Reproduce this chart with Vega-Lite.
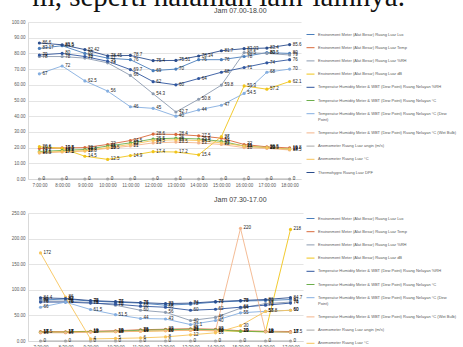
{
  "$schema": "https://vega.github.io/schema/vega-lite/v6.json",
  "background": "white",
  "padding": {"left": 10, "top": -17, "right": 0, "bottom": 0},
  "autosize": {"type": "pad"},
  "title": {"text": "m, seperti halaman lain-lainnya.", "font": "Liberation Serif", "fontSize": 29, "fontWeight": "normal", "color": "#111111", "anchor": "end", "frame": "bounds", "dx": -52, "offset": -5},
  "spacing": 9,
  "datasets": {
    "top": [
      {"t": "7:00:00", "Environment Meter (Alat Besar) Ruang Luar Lux": 83.17, "Environment Meter (Alat Besar) Ruang Luar Temp": 19.5, "Environment Meter (Alat Besar) Ruang Luar %RH": 78, "Environment Meter (Alat Besar) Ruang Luar dB": 20.6, "Temperatur Humidity Meter & WBT (Dew Point) Ruang Nelayan %RH": 79, "Temperatur Humidity Meter & WBT (Dew Point) Ruang Nelayan °C": 17.5, "Temperatur Humidity Meter & WBT (Dew Point) Ruang Nelayan °C (Dew Point)": 67, "Temperatur Humidity Meter & WBT (Dew Point) Ruang Nelayan °C (Wet Bulb)": 16.5, "Anemometer Ruang Luar angin (m/s)": 0, "Anemometer Ruang Luar °C": 17, "Thermohygro Ruang Luar DPF": 86.6},
      {"t": "8:00:00", "Environment Meter (Alat Besar) Ruang Luar Lux": 84.9, "Environment Meter (Alat Besar) Ruang Luar Temp": 19.8, "Environment Meter (Alat Besar) Ruang Luar %RH": 78, "Environment Meter (Alat Besar) Ruang Luar dB": 19.5, "Temperatur Humidity Meter & WBT (Dew Point) Ruang Nelayan %RH": 80, "Temperatur Humidity Meter & WBT (Dew Point) Ruang Nelayan °C": 18.2, "Temperatur Humidity Meter & WBT (Dew Point) Ruang Nelayan °C (Dew Point)": 72, "Temperatur Humidity Meter & WBT (Dew Point) Ruang Nelayan °C (Wet Bulb)": 17.2, "Anemometer Ruang Luar angin (m/s)": 0, "Anemometer Ruang Luar °C": 17.5, "Thermohygro Ruang Luar DPF": 85.5},
      {"t": "9:00:00", "Environment Meter (Alat Besar) Ruang Luar Lux": 80, "Environment Meter (Alat Besar) Ruang Luar Temp": 20, "Environment Meter (Alat Besar) Ruang Luar %RH": 77, "Environment Meter (Alat Besar) Ruang Luar dB": 14.5, "Temperatur Humidity Meter & WBT (Dew Point) Ruang Nelayan %RH": 78, "Temperatur Humidity Meter & WBT (Dew Point) Ruang Nelayan °C": 18.8, "Temperatur Humidity Meter & WBT (Dew Point) Ruang Nelayan °C (Dew Point)": 62.5, "Temperatur Humidity Meter & WBT (Dew Point) Ruang Nelayan °C (Wet Bulb)": 17.8, "Anemometer Ruang Luar angin (m/s)": 0, "Anemometer Ruang Luar °C": 18, "Thermohygro Ruang Luar DPF": 82.42},
      {"t": "10:00:00", "Environment Meter (Alat Besar) Ruang Luar Lux": 77, "Environment Meter (Alat Besar) Ruang Luar Temp": 22, "Environment Meter (Alat Besar) Ruang Luar %RH": 74, "Environment Meter (Alat Besar) Ruang Luar dB": 12.5, "Temperatur Humidity Meter & WBT (Dew Point) Ruang Nelayan %RH": 75, "Temperatur Humidity Meter & WBT (Dew Point) Ruang Nelayan °C": 21, "Temperatur Humidity Meter & WBT (Dew Point) Ruang Nelayan °C (Dew Point)": 56, "Temperatur Humidity Meter & WBT (Dew Point) Ruang Nelayan °C (Wet Bulb)": 19.5, "Anemometer Ruang Luar angin (m/s)": 0, "Anemometer Ruang Luar °C": 20, "Thermohygro Ruang Luar DPF": 78.45},
      {"t": "11:00:00", "Environment Meter (Alat Besar) Ruang Luar Lux": 76, "Environment Meter (Alat Besar) Ruang Luar Temp": 24.5, "Environment Meter (Alat Besar) Ruang Luar %RH": 66, "Environment Meter (Alat Besar) Ruang Luar dB": 14.9, "Temperatur Humidity Meter & WBT (Dew Point) Ruang Nelayan %RH": 69.7, "Temperatur Humidity Meter & WBT (Dew Point) Ruang Nelayan °C": 23, "Temperatur Humidity Meter & WBT (Dew Point) Ruang Nelayan °C (Dew Point)": 46, "Temperatur Humidity Meter & WBT (Dew Point) Ruang Nelayan °C (Wet Bulb)": 21, "Anemometer Ruang Luar angin (m/s)": 0, "Anemometer Ruang Luar °C": 22, "Thermohygro Ruang Luar DPF": 78.7},
      {"t": "12:00:00", "Environment Meter (Alat Besar) Ruang Luar Lux": 69, "Environment Meter (Alat Besar) Ruang Luar Temp": 28.6, "Environment Meter (Alat Besar) Ruang Luar %RH": 54.3, "Environment Meter (Alat Besar) Ruang Luar dB": 17.4, "Temperatur Humidity Meter & WBT (Dew Point) Ruang Nelayan %RH": 62, "Temperatur Humidity Meter & WBT (Dew Point) Ruang Nelayan °C": 25.5, "Temperatur Humidity Meter & WBT (Dew Point) Ruang Nelayan °C (Dew Point)": 45, "Temperatur Humidity Meter & WBT (Dew Point) Ruang Nelayan °C (Wet Bulb)": 23, "Anemometer Ruang Luar angin (m/s)": 0, "Anemometer Ruang Luar °C": 24.5, "Thermohygro Ruang Luar DPF": 75.4},
      {"t": "13:00:00", "Environment Meter (Alat Besar) Ruang Luar Lux": 70, "Environment Meter (Alat Besar) Ruang Luar Temp": 28.4, "Environment Meter (Alat Besar) Ruang Luar %RH": 42.7, "Environment Meter (Alat Besar) Ruang Luar dB": 17.2, "Temperatur Humidity Meter & WBT (Dew Point) Ruang Nelayan %RH": 60, "Temperatur Humidity Meter & WBT (Dew Point) Ruang Nelayan °C": 26, "Temperatur Humidity Meter & WBT (Dew Point) Ruang Nelayan °C (Dew Point)": 40, "Temperatur Humidity Meter & WBT (Dew Point) Ruang Nelayan °C (Wet Bulb)": 23.5, "Anemometer Ruang Luar angin (m/s)": 0, "Anemometer Ruang Luar °C": 25, "Thermohygro Ruang Luar DPF": 75.51},
      {"t": "14:00:00", "Environment Meter (Alat Besar) Ruang Luar Lux": 76, "Environment Meter (Alat Besar) Ruang Luar Temp": 27.5, "Environment Meter (Alat Besar) Ruang Luar %RH": 50.8, "Environment Meter (Alat Besar) Ruang Luar dB": 15.4, "Temperatur Humidity Meter & WBT (Dew Point) Ruang Nelayan %RH": 64, "Temperatur Humidity Meter & WBT (Dew Point) Ruang Nelayan °C": 25.5, "Temperatur Humidity Meter & WBT (Dew Point) Ruang Nelayan °C (Dew Point)": 44, "Temperatur Humidity Meter & WBT (Dew Point) Ruang Nelayan °C (Wet Bulb)": 23, "Anemometer Ruang Luar angin (m/s)": 0, "Anemometer Ruang Luar °C": 24.5, "Thermohygro Ruang Luar DPF": 78.34},
      {"t": "15:00:00", "Environment Meter (Alat Besar) Ruang Luar Lux": 76, "Environment Meter (Alat Besar) Ruang Luar Temp": 26, "Environment Meter (Alat Besar) Ruang Luar %RH": 59.8, "Environment Meter (Alat Besar) Ruang Luar dB": 27, "Temperatur Humidity Meter & WBT (Dew Point) Ruang Nelayan %RH": 68, "Temperatur Humidity Meter & WBT (Dew Point) Ruang Nelayan °C": 24, "Temperatur Humidity Meter & WBT (Dew Point) Ruang Nelayan °C (Dew Point)": 47, "Temperatur Humidity Meter & WBT (Dew Point) Ruang Nelayan °C (Wet Bulb)": 22, "Anemometer Ruang Luar angin (m/s)": 0, "Anemometer Ruang Luar °C": 23, "Thermohygro Ruang Luar DPF": 81.7},
      {"t": "16:00:00", "Environment Meter (Alat Besar) Ruang Luar Lux": 78, "Environment Meter (Alat Besar) Ruang Luar Temp": 22, "Environment Meter (Alat Besar) Ruang Luar %RH": 80.5, "Environment Meter (Alat Besar) Ruang Luar dB": 59.3, "Temperatur Humidity Meter & WBT (Dew Point) Ruang Nelayan %RH": 71, "Temperatur Humidity Meter & WBT (Dew Point) Ruang Nelayan °C": 21, "Temperatur Humidity Meter & WBT (Dew Point) Ruang Nelayan °C (Dew Point)": 54.5, "Temperatur Humidity Meter & WBT (Dew Point) Ruang Nelayan °C (Wet Bulb)": 20, "Anemometer Ruang Luar angin (m/s)": 0, "Anemometer Ruang Luar °C": 21, "Thermohygro Ruang Luar DPF": 83.03},
      {"t": "17:00:00", "Environment Meter (Alat Besar) Ruang Luar Lux": 80.5, "Environment Meter (Alat Besar) Ruang Luar Temp": 20.5, "Environment Meter (Alat Besar) Ruang Luar %RH": 80, "Environment Meter (Alat Besar) Ruang Luar dB": 57.2, "Temperatur Humidity Meter & WBT (Dew Point) Ruang Nelayan %RH": 74, "Temperatur Humidity Meter & WBT (Dew Point) Ruang Nelayan °C": 20, "Temperatur Humidity Meter & WBT (Dew Point) Ruang Nelayan °C (Dew Point)": 68, "Temperatur Humidity Meter & WBT (Dew Point) Ruang Nelayan °C (Wet Bulb)": 19.5, "Anemometer Ruang Luar angin (m/s)": 0, "Anemometer Ruang Luar °C": 20, "Thermohygro Ruang Luar DPF": 83.4},
      {"t": "18:00:00", "Environment Meter (Alat Besar) Ruang Luar Lux": 80, "Environment Meter (Alat Besar) Ruang Luar Temp": 19.8, "Environment Meter (Alat Besar) Ruang Luar %RH": 79, "Environment Meter (Alat Besar) Ruang Luar dB": 62.1, "Temperatur Humidity Meter & WBT (Dew Point) Ruang Nelayan %RH": 76, "Temperatur Humidity Meter & WBT (Dew Point) Ruang Nelayan °C": 19, "Temperatur Humidity Meter & WBT (Dew Point) Ruang Nelayan °C (Dew Point)": 70, "Temperatur Humidity Meter & WBT (Dew Point) Ruang Nelayan °C (Wet Bulb)": 18.5, "Anemometer Ruang Luar angin (m/s)": 0, "Anemometer Ruang Luar °C": 19, "Thermohygro Ruang Luar DPF": 85.6}
    ],
    "bot": [
      {"t": "7:30:00", "Environment Meter (Alat Besar) Ruang Luar Lux": 80, "Environment Meter (Alat Besar) Ruang Luar Temp": 18.5, "Environment Meter (Alat Besar) Ruang Luar %RH": 78, "Environment Meter (Alat Besar) Ruang Luar dB": 17, "Temperatur Humidity Meter & WBT (Dew Point) Ruang Nelayan %RH": 76, "Temperatur Humidity Meter & WBT (Dew Point) Ruang Nelayan °C": 17, "Temperatur Humidity Meter & WBT (Dew Point) Ruang Nelayan °C (Dew Point)": 66, "Temperatur Humidity Meter & WBT (Dew Point) Ruang Nelayan °C (Wet Bulb)": 16, "Anemometer Ruang Luar angin (m/s)": 0, "Anemometer Ruang Luar °C": 172, "Thermohygro Ruang Luar DPF": 84.4},
      {"t": "8:30:00", "Environment Meter (Alat Besar) Ruang Luar Lux": 82, "Environment Meter (Alat Besar) Ruang Luar Temp": 18, "Environment Meter (Alat Besar) Ruang Luar %RH": 78, "Environment Meter (Alat Besar) Ruang Luar dB": 17, "Temperatur Humidity Meter & WBT (Dew Point) Ruang Nelayan %RH": 76, "Temperatur Humidity Meter & WBT (Dew Point) Ruang Nelayan °C": 17, "Temperatur Humidity Meter & WBT (Dew Point) Ruang Nelayan °C (Dew Point)": 76, "Temperatur Humidity Meter & WBT (Dew Point) Ruang Nelayan °C (Wet Bulb)": 16, "Anemometer Ruang Luar angin (m/s)": 0, "Anemometer Ruang Luar °C": 86, "Thermohygro Ruang Luar DPF": 83},
      {"t": "9:30:00", "Environment Meter (Alat Besar) Ruang Luar Lux": 78, "Environment Meter (Alat Besar) Ruang Luar Temp": 19, "Environment Meter (Alat Besar) Ruang Luar %RH": 75, "Environment Meter (Alat Besar) Ruang Luar dB": 18, "Temperatur Humidity Meter & WBT (Dew Point) Ruang Nelayan %RH": 74, "Temperatur Humidity Meter & WBT (Dew Point) Ruang Nelayan °C": 18, "Temperatur Humidity Meter & WBT (Dew Point) Ruang Nelayan °C (Dew Point)": 61.5, "Temperatur Humidity Meter & WBT (Dew Point) Ruang Nelayan °C (Wet Bulb)": 17, "Anemometer Ruang Luar angin (m/s)": 0, "Anemometer Ruang Luar °C": 4, "Thermohygro Ruang Luar DPF": 79},
      {"t": "10:30:00", "Environment Meter (Alat Besar) Ruang Luar Lux": 76, "Environment Meter (Alat Besar) Ruang Luar Temp": 20, "Environment Meter (Alat Besar) Ruang Luar %RH": 70, "Environment Meter (Alat Besar) Ruang Luar dB": 18, "Temperatur Humidity Meter & WBT (Dew Point) Ruang Nelayan %RH": 72, "Temperatur Humidity Meter & WBT (Dew Point) Ruang Nelayan °C": 19, "Temperatur Humidity Meter & WBT (Dew Point) Ruang Nelayan °C (Dew Point)": 51.5, "Temperatur Humidity Meter & WBT (Dew Point) Ruang Nelayan °C (Wet Bulb)": 18, "Anemometer Ruang Luar angin (m/s)": 0, "Anemometer Ruang Luar °C": 5, "Thermohygro Ruang Luar DPF": 77},
      {"t": "11:30:00", "Environment Meter (Alat Besar) Ruang Luar Lux": 74, "Environment Meter (Alat Besar) Ruang Luar Temp": 22, "Environment Meter (Alat Besar) Ruang Luar %RH": 60, "Environment Meter (Alat Besar) Ruang Luar dB": 19, "Temperatur Humidity Meter & WBT (Dew Point) Ruang Nelayan %RH": 68, "Temperatur Humidity Meter & WBT (Dew Point) Ruang Nelayan °C": 21, "Temperatur Humidity Meter & WBT (Dew Point) Ruang Nelayan °C (Dew Point)": 44, "Temperatur Humidity Meter & WBT (Dew Point) Ruang Nelayan °C (Wet Bulb)": 19, "Anemometer Ruang Luar angin (m/s)": 0, "Anemometer Ruang Luar °C": 6, "Thermohygro Ruang Luar DPF": 75},
      {"t": "12:30:00", "Environment Meter (Alat Besar) Ruang Luar Lux": 70, "Environment Meter (Alat Besar) Ruang Luar Temp": 23, "Environment Meter (Alat Besar) Ruang Luar %RH": 56, "Environment Meter (Alat Besar) Ruang Luar dB": 20, "Temperatur Humidity Meter & WBT (Dew Point) Ruang Nelayan %RH": 66, "Temperatur Humidity Meter & WBT (Dew Point) Ruang Nelayan °C": 22, "Temperatur Humidity Meter & WBT (Dew Point) Ruang Nelayan °C (Dew Point)": 43, "Temperatur Humidity Meter & WBT (Dew Point) Ruang Nelayan °C (Wet Bulb)": 20, "Anemometer Ruang Luar angin (m/s)": 0, "Anemometer Ruang Luar °C": 8, "Thermohygro Ruang Luar DPF": 73},
      {"t": "13:30:00", "Environment Meter (Alat Besar) Ruang Luar Lux": 72, "Environment Meter (Alat Besar) Ruang Luar Temp": 24, "Environment Meter (Alat Besar) Ruang Luar %RH": 40, "Environment Meter (Alat Besar) Ruang Luar dB": 21, "Temperatur Humidity Meter & WBT (Dew Point) Ruang Nelayan %RH": 60, "Temperatur Humidity Meter & WBT (Dew Point) Ruang Nelayan °C": 23, "Temperatur Humidity Meter & WBT (Dew Point) Ruang Nelayan °C (Dew Point)": 32.1, "Temperatur Humidity Meter & WBT (Dew Point) Ruang Nelayan °C (Wet Bulb)": 21, "Anemometer Ruang Luar angin (m/s)": 0, "Anemometer Ruang Luar °C": 12, "Thermohygro Ruang Luar DPF": 74},
      {"t": "14:30:00", "Environment Meter (Alat Besar) Ruang Luar Lux": 76, "Environment Meter (Alat Besar) Ruang Luar Temp": 23, "Environment Meter (Alat Besar) Ruang Luar %RH": 46, "Environment Meter (Alat Besar) Ruang Luar dB": 20, "Temperatur Humidity Meter & WBT (Dew Point) Ruang Nelayan %RH": 62, "Temperatur Humidity Meter & WBT (Dew Point) Ruang Nelayan °C": 22, "Temperatur Humidity Meter & WBT (Dew Point) Ruang Nelayan °C (Dew Point)": 40, "Temperatur Humidity Meter & WBT (Dew Point) Ruang Nelayan °C (Wet Bulb)": 20, "Anemometer Ruang Luar angin (m/s)": 0, "Anemometer Ruang Luar °C": 16, "Thermohygro Ruang Luar DPF": 77},
      {"t": "15:30:00", "Environment Meter (Alat Besar) Ruang Luar Lux": 78, "Environment Meter (Alat Besar) Ruang Luar Temp": 20, "Environment Meter (Alat Besar) Ruang Luar %RH": 64, "Environment Meter (Alat Besar) Ruang Luar dB": 19, "Temperatur Humidity Meter & WBT (Dew Point) Ruang Nelayan %RH": 66, "Temperatur Humidity Meter & WBT (Dew Point) Ruang Nelayan °C": 19, "Temperatur Humidity Meter & WBT (Dew Point) Ruang Nelayan °C (Dew Point)": 55, "Temperatur Humidity Meter & WBT (Dew Point) Ruang Nelayan °C (Wet Bulb)": 220, "Anemometer Ruang Luar angin (m/s)": 0, "Anemometer Ruang Luar °C": 30, "Thermohygro Ruang Luar DPF": 79},
      {"t": "16:30:00", "Environment Meter (Alat Besar) Ruang Luar Lux": 79, "Environment Meter (Alat Besar) Ruang Luar Temp": 19, "Environment Meter (Alat Besar) Ruang Luar %RH": 73, "Environment Meter (Alat Besar) Ruang Luar dB": 18, "Temperatur Humidity Meter & WBT (Dew Point) Ruang Nelayan %RH": 70, "Temperatur Humidity Meter & WBT (Dew Point) Ruang Nelayan °C": 18, "Temperatur Humidity Meter & WBT (Dew Point) Ruang Nelayan °C (Dew Point)": 58, "Temperatur Humidity Meter & WBT (Dew Point) Ruang Nelayan °C (Wet Bulb)": 18, "Anemometer Ruang Luar angin (m/s)": 0, "Anemometer Ruang Luar °C": 57.8, "Thermohygro Ruang Luar DPF": 81},
      {"t": "17:00:00", "Environment Meter (Alat Besar) Ruang Luar Lux": 81, "Environment Meter (Alat Besar) Ruang Luar Temp": 18.5, "Environment Meter (Alat Besar) Ruang Luar %RH": 76, "Environment Meter (Alat Besar) Ruang Luar dB": 218, "Temperatur Humidity Meter & WBT (Dew Point) Ruang Nelayan %RH": 74, "Temperatur Humidity Meter & WBT (Dew Point) Ruang Nelayan °C": 17, "Temperatur Humidity Meter & WBT (Dew Point) Ruang Nelayan °C (Dew Point)": 60, "Temperatur Humidity Meter & WBT (Dew Point) Ruang Nelayan °C (Wet Bulb)": 17, "Anemometer Ruang Luar angin (m/s)": 0, "Anemometer Ruang Luar °C": 60, "Thermohygro Ruang Luar DPF": 84.7}
    ]
  },
  "vconcat": [
    {
      "width": 273,
      "height": 157,
      "title": {"text": "Jam 07.00-18.00", "anchor": "start", "dx": 204, "fontSize": 7, "fontWeight": "normal", "color": "#404040", "offset": 5},
      "data": {"name": "top"},
      "transform": [{"fold": ["Environment Meter (Alat Besar) Ruang Luar Lux", "Environment Meter (Alat Besar) Ruang Luar Temp", "Environment Meter (Alat Besar) Ruang Luar %RH", "Environment Meter (Alat Besar) Ruang Luar dB", "Temperatur Humidity Meter & WBT (Dew Point) Ruang Nelayan %RH", "Temperatur Humidity Meter & WBT (Dew Point) Ruang Nelayan °C", "Temperatur Humidity Meter & WBT (Dew Point) Ruang Nelayan °C (Dew Point)", "Temperatur Humidity Meter & WBT (Dew Point) Ruang Nelayan °C (Wet Bulb)", "Anemometer Ruang Luar angin (m/s)", "Anemometer Ruang Luar °C", "Thermohygro Ruang Luar DPF"], "as": ["s", "v"]}],
      "encoding": {
        "x": {"field": "t", "type": "ordinal", "sort": ["7:00:00", "8:00:00", "9:00:00", "10:00:00", "11:00:00", "12:00:00", "13:00:00", "14:00:00", "15:00:00", "16:00:00", "17:00:00", "18:00:00"], "scale": {"type": "point", "padding": 0.5}, "axis": {"title": null, "labelAngle": 0, "labelFontSize": 4.5, "labelColor": "#595959", "ticks": false, "domainColor": "#d9d9d9", "labelPadding": 3}},
        "y": {"field": "v", "type": "quantitative", "scale": {"domain": [0, 100], "nice": false}, "axis": {"title": null, "values": [0, 10, 20, 30, 40, 50, 60, 70, 80, 90, 100], "format": ".2f", "labelFontSize": 4.5, "labelColor": "#595959", "ticks": false, "domainColor": "#d9d9d9", "gridColor": "#d9d9d9", "gridWidth": 0.7, "minExtent": 18, "maxExtent": 18, "labelPadding": 3}},
        "color": {"field": "s", "type": "nominal", "scale": {"domain": ["Environment Meter (Alat Besar) Ruang Luar Lux", "Environment Meter (Alat Besar) Ruang Luar Temp", "Environment Meter (Alat Besar) Ruang Luar %RH", "Environment Meter (Alat Besar) Ruang Luar dB", "Temperatur Humidity Meter & WBT (Dew Point) Ruang Nelayan %RH", "Temperatur Humidity Meter & WBT (Dew Point) Ruang Nelayan °C", "Temperatur Humidity Meter & WBT (Dew Point) Ruang Nelayan °C (Dew Point)", "Temperatur Humidity Meter & WBT (Dew Point) Ruang Nelayan °C (Wet Bulb)", "Anemometer Ruang Luar angin (m/s)", "Anemometer Ruang Luar °C", "Thermohygro Ruang Luar DPF"], "range": ["#4a7ebb", "#d9693a", "#8c9bb0", "#f0c419", "#30569e", "#6cae4c", "#84aee0", "#f3b48a", "#a6a6a6", "#f7c45a", "#2b4d8c"]}, "legend": {"orient": "none", "legendX": 278, "legendY": 8, "title": null, "labelFontSize": 4, "labelColor": "#595959", "labelLimit": 400, "symbolType": "stroke", "symbolSize": 64, "symbolStrokeWidth": 1, "rowPadding": 6.2, "labelOffset": 3, "padding": 0, "labelExpr": "indexof(datum.label, '°C (Dew') > 0 ? ['Temperatur Humidity Meter & WBT (Dew Point) Ruang Nelayan °C (Dew', 'Point)'] : datum.label"}}
      },
      "layer": [
        {"mark": {"type": "line", "strokeWidth": 0.9}},
        {"mark": {"type": "point", "filled": true, "size": 10, "opacity": 1}},
        {"mark": {"type": "text", "fontSize": 4.5, "align": "left", "dx": 3, "baseline": "middle"}, "encoding": {"text": {"field": "v", "type": "quantitative"}, "color": {"value": "#1a1a1a"}}}
      ]
    },
    {
      "width": 275,
      "height": 128,
      "title": {"text": "Jam 07.30-17.00", "anchor": "start", "dx": 204, "fontSize": 7, "fontWeight": "normal", "color": "#404040", "offset": 7},
      "data": {"name": "bot"},
      "transform": [{"fold": ["Environment Meter (Alat Besar) Ruang Luar Lux", "Environment Meter (Alat Besar) Ruang Luar Temp", "Environment Meter (Alat Besar) Ruang Luar %RH", "Environment Meter (Alat Besar) Ruang Luar dB", "Temperatur Humidity Meter & WBT (Dew Point) Ruang Nelayan %RH", "Temperatur Humidity Meter & WBT (Dew Point) Ruang Nelayan °C", "Temperatur Humidity Meter & WBT (Dew Point) Ruang Nelayan °C (Dew Point)", "Temperatur Humidity Meter & WBT (Dew Point) Ruang Nelayan °C (Wet Bulb)", "Anemometer Ruang Luar angin (m/s)", "Anemometer Ruang Luar °C", "Thermohygro Ruang Luar DPF"], "as": ["s", "v"]}],
      "encoding": {
        "x": {"field": "t", "type": "ordinal", "sort": ["7:30:00", "8:30:00", "9:30:00", "10:30:00", "11:30:00", "12:30:00", "13:30:00", "14:30:00", "15:30:00", "16:30:00", "17:00:00"], "scale": {"type": "point", "padding": 0.5}, "axis": {"title": null, "labelAngle": 0, "labelFontSize": 4.5, "labelColor": "#595959", "ticks": false, "domainColor": "#d9d9d9", "labelPadding": 3}},
        "y": {"field": "v", "type": "quantitative", "scale": {"domain": [0, 250], "nice": false}, "axis": {"title": null, "values": [0, 50, 100, 150, 200, 250], "format": ".2f", "labelFontSize": 4.5, "labelColor": "#595959", "ticks": false, "domainColor": "#d9d9d9", "gridColor": "#d9d9d9", "gridWidth": 0.7, "minExtent": 18, "maxExtent": 18, "labelPadding": 3}},
        "color": {"field": "s", "type": "nominal", "scale": {"domain": ["Environment Meter (Alat Besar) Ruang Luar Lux", "Environment Meter (Alat Besar) Ruang Luar Temp", "Environment Meter (Alat Besar) Ruang Luar %RH", "Environment Meter (Alat Besar) Ruang Luar dB", "Temperatur Humidity Meter & WBT (Dew Point) Ruang Nelayan %RH", "Temperatur Humidity Meter & WBT (Dew Point) Ruang Nelayan °C", "Temperatur Humidity Meter & WBT (Dew Point) Ruang Nelayan °C (Dew Point)", "Temperatur Humidity Meter & WBT (Dew Point) Ruang Nelayan °C (Wet Bulb)", "Anemometer Ruang Luar angin (m/s)", "Anemometer Ruang Luar °C", "Thermohygro Ruang Luar DPF"], "range": ["#4a7ebb", "#d9693a", "#8c9bb0", "#f0c419", "#30569e", "#6cae4c", "#84aee0", "#f3b48a", "#a6a6a6", "#f7c45a", "#2b4d8c"]}, "legend": {"orient": "none", "legendX": 278, "legendY": 1, "title": null, "labelFontSize": 4, "labelColor": "#595959", "labelLimit": 400, "symbolType": "stroke", "symbolSize": 64, "symbolStrokeWidth": 1, "rowPadding": 6.2, "labelOffset": 3, "padding": 0, "labelExpr": "indexof(datum.label, '°C (Dew') > 0 ? ['Temperatur Humidity Meter & WBT (Dew Point) Ruang Nelayan °C (Dew', 'Point)'] : datum.label"}}
      },
      "layer": [
        {"mark": {"type": "line", "strokeWidth": 0.9}},
        {"mark": {"type": "point", "filled": true, "size": 10, "opacity": 1}},
        {"mark": {"type": "text", "fontSize": 4.5, "align": "left", "dx": 3, "baseline": "middle"}, "encoding": {"text": {"field": "v", "type": "quantitative"}, "color": {"value": "#1a1a1a"}}}
      ]
    }
  ],
  "resolve": {"scale": {"color": "independent"}, "legend": {"color": "independent"}},
  "config": {
    "font": "Liberation Sans",
    "view": {"stroke": null}
  }
}
